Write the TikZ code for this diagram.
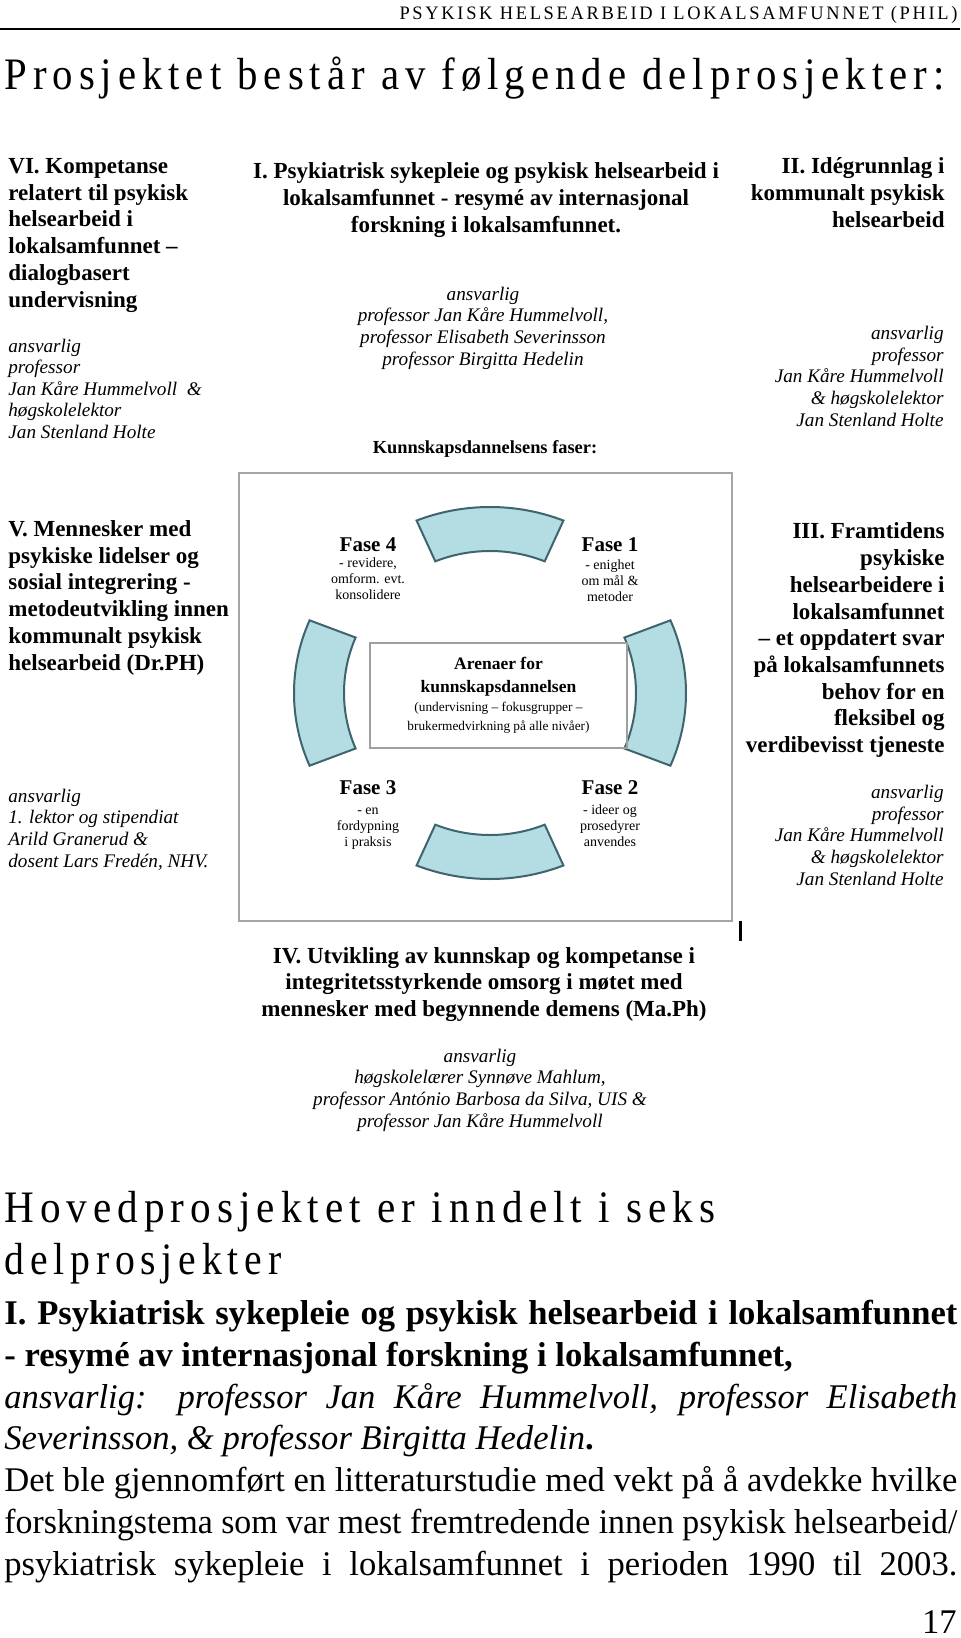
\documentclass[tikz,border=0pt]{standalone}
\usepackage{fontspec}
\usepackage{graphicx}
\setmainfont{Liberation Serif}
\newfontfamily\pagefont[FakeStretch=0.82,LetterSpace=12]{Liberation Serif}
\usetikzlibrary{positioning}

\definecolor{bandblue}{RGB}{180,220,227}
\definecolor{bandline}{RGB}{62,100,110}
\definecolor{framegray}{RGB}{165,165,165}

\newcommand{\pageline}[2]{\resizebox{#1}{\height}{\pagefont #2}}
\newcommand{\fullline}[1]{\makebox[476.5pt][s]{#1}}
\newcommand{\fitline}[1]{\resizebox{476.5pt}{\height}{#1}}

\begin{document}
\begin{tikzpicture}[x=0.5pt, y=-0.5pt,
 block head/.style={font=\bfseries\fontsize{11.5}{13.35}\selectfont, inner sep=0pt},
 resp text/.style={font=\itshape\fontsize{9.6}{10.8}\selectfont, inner sep=0pt},
 fase head/.style={font=\bfseries\fontsize{10.5}{12}\selectfont, inner sep=0pt, anchor=base},
 fase note/.style={font=\fontsize{7}{8}\selectfont, inner sep=0pt, align=center, anchor=base},
 phase band/.style={fill=bandblue, draw=bandline, line width=1pt},
 page text/.style={inner sep=0pt, anchor=base west}]

  \useasboundingbox (0,0) rectangle (960,1638);
  \fill[white] (0,0) rectangle (960,1638);

  \node[page text, anchor=base east] (running head) at (958,19)
    {\pageline{279pt}{\fontsize{9.5}{11}\selectfont PSYKISK HELSEARBEID I LOKALSAMFUNNET (PHIL)}};
  \draw[line width=1pt] (0,29) -- (960,29);
  \node[page text] (title) at (4,90)
    {\pageline{470pt}{\fontsize{22.5}{27}\selectfont Prosjektet består av følgende delprosjekter:}};

  % delprosjekter round the figure (base = last line)
  \node[block head, align=left, anchor=base west] (part VI) at (8,307)
    {VI. Kompetanse\\relatert til psykisk\\helsearbeid i\\lokalsamfunnet –\\dialogbasert\\undervisning};
  \node[resp text, align=left, anchor=base west] (resp VI) at (8,438.5)
    {ansvarlig\\professor\\Jan Kåre Hummelvoll~ \&\\høgskolelektor\\Jan Stenland Holte};

  \node[block head, align=center, anchor=base] (part I) at (486,232)
    {I. Psykiatrisk sykepleie og psykisk helsearbeid i\\lokalsamfunnet - resymé av internasjonal\\forskning i lokalsamfunnet.};
  \node[resp text, align=center, anchor=base] (resp I) at (483,365)
    {ansvarlig\\professor Jan Kåre Hummelvoll,\\professor Elisabeth Severinsson\\professor Birgitta Hedelin};

  \node[block head, align=right, anchor=base east] (part II) at (945,227)
    {II. Idégrunnlag i\\kommunalt psykisk\\helsearbeid};
  \node[resp text, align=right, anchor=base east] (resp II) at (944,426)
    {ansvarlig\\professor\\Jan Kåre Hummelvoll\\\& høgskolelektor\\Jan Stenland Holte};

  \node[inner sep=0pt, anchor=base, font=\bfseries\fontsize{9.2}{11}\selectfont] (faser) at (485,453)
    {Kunnskapsdannelsens faser:};

  \node[block head, align=left, anchor=base west] (part V) at (8,670)
    {V. Mennesker med\\psykiske lidelser og\\sosial integrering -\\metodeutvikling innen\\kommunalt psykisk\\helsearbeid (Dr.PH)};
  \node[resp text, align=left, anchor=base west] (resp V) at (8,867)
    {ansvarlig\\1. lektor og stipendiat\\Arild Granerud \&\\dosent Lars Fredén, NHV.};

  \node[block head, align=right, anchor=base east] (part III) at (945,752.5)
    {III. Framtidens\\psykiske\\helsearbeidere i\\lokalsamfunnet\\– et oppdatert svar\\på lokalsamfunnets\\behov for en\\fleksibel og\\verdibevisst tjeneste};
  \node[resp text, align=right, anchor=base east] (resp III) at (944,885)
    {ansvarlig\\professor\\Jan Kåre Hummelvoll\\\& høgskolelektor\\Jan Stenland Holte};

  \node[block head, align=center, anchor=base] (part IV) at (484,1016.5)
    {IV. Utvikling av kunnskap og kompetanse i\\integritetsstyrkende omsorg i møtet med\\mennesker med begynnende demens (Ma.Ph)};
  \node[resp text, align=center, anchor=base] (resp IV) at (480,1127)
    {ansvarlig\\høgskolelærer Synnøve Mahlum,\\professor António Barbosa da Silva, UIS \&\\professor Jan Kåre Hummelvoll};

  % the phase wheel
  \node[draw=framegray, line width=1.25pt, minimum width=246.5pt, minimum height=224pt, inner sep=0pt] (phase frame) at (485.5,697) {};
  \draw[line width=1.5pt] (740,921) -- (740,941);

  \coordinate (hub) at (490,693);
  \foreach \a/\w in {90/22, 270/22, 0/23, 180/23}
    \draw[phase band] ([shift={(\a-\w:196 and 186)}]hub)
      arc[start angle=\a-\w, end angle=\a+\w, x radius=196, y radius=186]
      -- ([shift={(\a+\w:146 and 142)}]hub)
      arc[start angle=\a+\w, end angle=\a-\w, x radius=146, y radius=142] -- cycle;

  \node[draw=gray!75, line width=1pt, minimum width=128.5pt, minimum height=52.5pt, inner sep=0pt,
    align=center, font=\fontsize{6.65}{9.5}\selectfont] (arena) at (498.5,695.5)
    {\bfseries\fontsize{8.75}{11}\selectfont Arenaer for\\[2pt]\bfseries\fontsize{8.75}{11}\selectfont kunnskapsdannelsen\\\mdseries\fontsize{6.65}{9.5}\selectfont (undervisning – fokusgrupper –\\\mdseries\fontsize{6.65}{9.5}\selectfont brukermedvirkning på alle nivåer)};

  \node[fase head] (fase 4) at (368,551) {Fase 4};
  \node[fase head] (fase 1) at (610,551) {Fase 1};
  \node[fase head] (fase 3) at (368,794) {Fase 3};
  \node[fase head] (fase 2) at (610,794) {Fase 2};
  \node[fase note] (note 4) at ([yshift=-24pt]fase 4.base) {- revidere,\\omform. evt.\\konsolidere};
  \node[fase note] (note 1) at ([yshift=-25pt]fase 1.base) {- enighet\\om mål \&\\metoder};
  \node[fase note] (note 3) at ([yshift=-26pt]fase 3.base) {- en\\fordypning\\i praksis};
  \node[fase note] (note 2) at ([yshift=-26pt]fase 2.base) {- ideer og\\prosedyrer\\anvendes};

  % text below the figure
  \node[page text] (main head) at (4,1222)
    {\pageline{355.5pt}{\fontsize{22.5}{27}\selectfont Hovedprosjektet er inndelt i seks}};
  \node[page text] (main head2) at (4,1274)
    {\pageline{138.5pt}{\fontsize{22.5}{27}\selectfont delprosjekter}};

  \node[page text, align=left, font=\fontsize{17.3}{20.85}\selectfont] (summary) at (4,1575)
    {\fullline{\bfseries I. Psykiatrisk sykepleie og psykisk helsearbeid i lokalsamfunnet}\\
     {\bfseries - resymé av internasjonal forskning i lokalsamfunnet,}\\
     \fullline{\itshape ansvarlig: professor Jan Kåre Hummelvoll, professor Elisabeth}\\
     {\itshape Severinsson, \& professor Birgitta Hedelin}{\bfseries .}\\
     \fullline{Det ble gjennomført en litteraturstudie med vekt på å avdekke hvilke}\\
     \fitline{forskningstema som var mest fremtredende innen psykisk helsearbeid/}\\
     \fullline{psykiatrisk sykepleie i lokalsamfunnet i perioden 1990 til 2003.}};

  \node[page text, anchor=base east, font=\fontsize{17.3}{20}\selectfont] (page no) at (957,1633) {17};
\end{tikzpicture}
\end{document}
